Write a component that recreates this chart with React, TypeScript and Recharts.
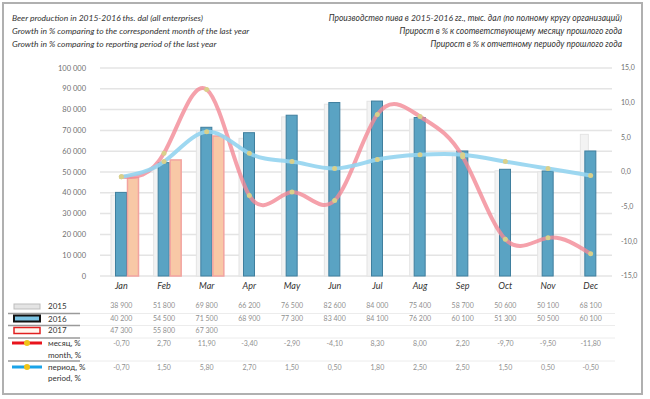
import React from 'react';
import { ComposedChart, Bar, Line, XAxis, YAxis, CartesianGrid } from 'recharts';

const months = ['Jan', 'Feb', 'Mar', 'Apr', 'May', 'Jun', 'Jul', 'Aug', 'Sep', 'Oct', 'Nov', 'Dec'];
const prod2015 = [38900, 51800, 69800, 66200, 76500, 82600, 84000, 75400, 58700, 50600, 50100, 68100];
const prod2016 = [40200, 54500, 71500, 68900, 77300, 83400, 84100, 76200, 60100, 51300, 50500, 60100];
const prod2017: (number | null)[] = [47300, 55800, 67300, null, null, null, null, null, null, null, null, null];
const monthPct = [-0.7, 2.7, 11.9, -3.4, -2.9, -4.1, 8.3, 8.0, 2.2, -9.7, -9.5, -11.8];
const periodPct = [-0.7, 1.5, 5.8, 2.7, 1.5, 0.5, 1.8, 2.5, 2.5, 1.5, 0.5, -0.5];
const leftTicks = [0, 10000, 20000, 30000, 40000, 50000, 60000, 70000, 80000, 90000, 100000];
const rightTicks = [-15, -10, -5, 0, 5, 10, 15];

const data = months.map((m, i) => ({
  month: m,
  y2015: prod2015[i],
  y2016: prod2016[i],
  y2017: prod2017[i],
  mPct: monthPct[i],
  pPct: periodPct[i],
}));

const FONT = 'Lato, "Open Sans", sans-serif';

const fmtThousands = (v: number) => String(Math.round(v)).replace(/\B(?=(\d{3})+(?!\d))/g, ' ');
const fmtPct = (v: number) => v.toFixed(2).replace('.', ',');

const MonthTick = (props: any) => {
  const { x, y, payload } = props;
  const i = payload.index ?? months.indexOf(payload.value);
  const d = data[i];
  const rowStyle = { fontSize: 7, fill: '#909090', fontFamily: FONT } as any;
  return (
    <g>
      <text x={x} y={y + 13} textAnchor="middle" fontStyle="italic" fontSize={9} fill="#333" fontFamily={FONT}>
        {payload.value}
      </text>
      <text x={x} y={y + 32} textAnchor="middle" {...rowStyle}>{fmtThousands(d.y2015)}</text>
      <text x={x} y={y + 45} textAnchor="middle" {...rowStyle}>{fmtThousands(d.y2016)}</text>
      {d.y2017 != null && (
        <text x={x} y={y + 57} textAnchor="middle" {...rowStyle}>{fmtThousands(d.y2017 as number)}</text>
      )}
      <text x={x} y={y + 70} textAnchor="middle" {...rowStyle}>{fmtPct(d.mPct)}</text>
      <text x={x} y={y + 94} textAnchor="middle" {...rowStyle}>{fmtPct(d.pPct)}</text>
    </g>
  );
};

const Shape2015 = (p: any) => {
  if (p.height == null || p.width == null) return null;
  return <rect x={p.x + 8} y={p.y} width={p.width - 4} height={p.height} fill="#f3f3f3" stroke="#e4e4e4" strokeWidth={1} />;
};
const Shape2016 = (p: any) => {
  if (p.height == null || p.width == null) return null;
  return <rect x={p.x + 0.5} y={p.y} width={p.width - 1} height={p.height} fill="#5aa3c3" stroke="#3f7f9e" strokeWidth={1} />;
};
const Shape2017 = (p: any) => {
  if (p.height == null || p.width == null) return null;
  return <rect x={p.x + 0.5} y={p.y} width={p.width - 1} height={p.height} fill="#f8c8a6" stroke="#f2a3a0" strokeWidth={1.5} />;
};

const Overlay = () => (
  <svg width={650} height={399} style={{ position: 'absolute', left: 0, top: 0, pointerEvents: 'none' }}>
    <rect x={3} y={3} width={639} height={391} fill="none" stroke="#b0b0b0" strokeWidth={2} />
    <g fontFamily={FONT} fontStyle="italic" fontSize={8.5} fill="#333">
      <text x={12} y={21}>Beer production in 2015-2016 ths. dal (all enterprises)</text>
      <text x={12} y={34}>Growth in % comparing to the correspondent month of the last year</text>
      <text x={12} y={47}>Growth in % comparing to reporting period of the last year</text>
      <text x={622} y={21} textAnchor="end">Производство пива в 2015-2016 гг., тыс. дал (по полному кругу организаций)</text>
      <text x={622} y={34} textAnchor="end">Прирост в % к соответствующему месяцу прошлого года</text>
      <text x={622} y={47} textAnchor="end">Прирост в % к отчетному периоду прошлого года</text>
    </g>
    <g stroke="#ececec" strokeWidth={1}>
      <line x1={80} y1={313.5} x2={615} y2={313.5} />
      <line x1={80} y1={325.5} x2={615} y2={325.5} />
      <line x1={80} y1={338} x2={615} y2={338} />
      <line x1={80} y1={361} x2={615} y2={361} />
    </g>
    <g stroke="#9a9a9a" strokeWidth={1.5}>
      <line x1={8} y1={313.5} x2={80} y2={313.5} />
      <line x1={8} y1={325.5} x2={80} y2={325.5} />
      <line x1={8} y1={338} x2={80} y2={338} />
      <line x1={8} y1={361} x2={80} y2={361} />
    </g>
    <rect x={14} y={304} width={26} height={5} fill="#e4e4e4" stroke="#bdbdbd" strokeWidth={1} />
    <rect x={14} y={315.5} width={26} height={6} fill="#7cc4e4" stroke="#111" strokeWidth={2} />
    <rect x={14} y={327.5} width={26} height={6} fill="#fff6ee" stroke="#e02020" strokeWidth={1.5} />
    <line x1={12} y1={343} x2={42} y2={343} stroke="#e8141c" strokeWidth={3} />
    <circle cx={27} cy={343} r={3} fill="#f0c419" />
    <line x1={12} y1={367} x2={42} y2={367} stroke="#1aa3e8" strokeWidth={3} />
    <circle cx={27} cy={367} r={3} fill="#f0c419" />
    <g fontFamily={FONT} fontSize={8} fill="#333">
      <text x={48} y={309}>2015</text>
      <text x={48} y={321.5}>2016</text>
      <text x={48} y={333}>2017</text>
      <text x={48} y={346}>месяц, %</text>
      <text x={48} y={357.5}>month, %</text>
      <text x={48} y={370}>период, %</text>
      <text x={48} y={381}>period, %</text>
    </g>
  </svg>
);

export default function App() {
  return (
    <div style={{ position: 'absolute', left: 0, top: 0, width: 650, height: 399, background: '#fff' }}>
      <ComposedChart
        width={650}
        height={399}
        data={data}
        margin={{ top: 68, right: 0, bottom: 0, left: 0 }}
        barGap={0}
        barCategoryGap={0}
      >
        <CartesianGrid yAxisId="left" vertical={false} stroke="#e4e4e4" strokeWidth={1.5} />
        <XAxis
          dataKey="month"
          height={123}
          axisLine={false}
          tickLine={false}
          tickSize={0}
          tickMargin={0}
          interval={0}
          tick={<MonthTick />}
        />
        <YAxis
          yAxisId="left"
          width={100}
          domain={[0, 100000]}
          ticks={leftTicks}
          interval={0}
          axisLine={false}
          tickLine={false}
          tickMargin={8}
          tickFormatter={(v: number) => fmtThousands(v)}
          tick={{ fontSize: 7.5, fill: '#707070', fontFamily: FONT }}
        />
        <YAxis
          yAxisId="right"
          orientation="right"
          width={38}
          domain={[-15, 15]}
          ticks={rightTicks}
          interval={0}
          axisLine={false}
          tickLine={false}
          tickMargin={3}
          tickFormatter={(v: number) => v.toFixed(1).replace('.', ',')}
          tick={{ fontSize: 7, fill: '#707070', fontFamily: FONT, textAnchor: 'start' }}
        />
        <Bar yAxisId="left" dataKey="y2015" barSize={12} isAnimationActive={false} shape={<Shape2015 />} />
        <Bar yAxisId="left" dataKey="y2016" barSize={12} isAnimationActive={false} shape={<Shape2016 />} />
        <Bar yAxisId="left" dataKey="y2017" barSize={12} isAnimationActive={false} shape={<Shape2017 />} />
        <Line
          yAxisId="right"
          type="natural"
          dataKey="mPct"
          stroke="#f28a96"
          strokeOpacity={0.8}
          strokeWidth={4}
          dot={{ r: 2.5, fill: '#d9d08a', stroke: 'none' }}
          activeDot={false}
          isAnimationActive={false}
        />
        <Line
          yAxisId="right"
          type="natural"
          dataKey="pPct"
          stroke="#93d4f0"
          strokeOpacity={0.9}
          strokeWidth={4}
          dot={{ r: 2.5, fill: '#d9d08a', stroke: 'none' }}
          activeDot={false}
          isAnimationActive={false}
        />
      </ComposedChart>
      <Overlay />
    </div>
  );
}
